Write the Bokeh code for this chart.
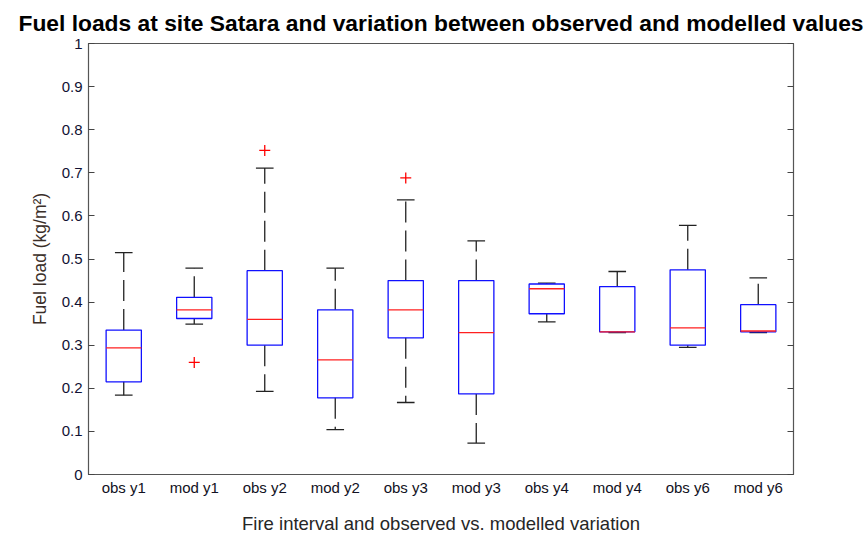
from bokeh.plotting import figure
from bokeh.models import (FixedTicker, LinearAxis, CustomJSTickFormatter, Range1d,
                          ColumnDataSource)
from bokeh.embed import file_html
from bokeh.resources import INLINE

# Box statistics per group (kg/m^2)
categories = ["obs y1", "mod y1", "obs y2", "mod y2", "obs y3",
              "mod y3", "obs y4", "mod y4", "obs y6", "mod y6"]
upper_whisker = [0.515, 0.479, 0.711, 0.479, 0.637, 0.542, 0.444, 0.471, 0.578, 0.456]
q3 = [0.335, 0.411, 0.473, 0.382, 0.450, 0.450, 0.442, 0.436, 0.475, 0.394]
median = [0.294, 0.382, 0.360, 0.266, 0.382, 0.329, 0.431, 0.331, 0.340, 0.333]
q1 = [0.215, 0.362, 0.300, 0.178, 0.317, 0.187, 0.373, 0.331, 0.300, 0.331]
lower_whisker = [0.184, 0.349, 0.193, 0.104, 0.167, 0.073, 0.354, 0.329, 0.295, 0.329]

outlier_groups = ["mod y1", "obs y2", "obs y3"]
outlier_values = [0.260, 0.752, 0.688]

y_ticks = [0.0, 0.1, 0.2, 0.3, 0.4, 0.5, 0.6, 0.7, 0.8, 0.9, 1.0]

FONT = "Liberation Sans"
BOX_W = 0.5
CAP_W = 0.25

xpos = [i + 1 for i in range(len(categories))]
src = ColumnDataSource(dict(
    x=xpos,
    left=[x - BOX_W / 2 for x in xpos],
    right=[x + BOX_W / 2 for x in xpos],
    cap_l=[x - CAP_W / 2 for x in xpos],
    cap_r=[x + CAP_W / 2 for x in xpos],
    upper=upper_whisker, q3=q3, median=median, q1=q1, lower=lower_whisker,
))
out_src = ColumnDataSource(dict(
    x=[categories.index(g) + 1 for g in outlier_groups],
    y=outlier_values,
))

p = figure(width=867, height=541, x_range=Range1d(0.5, 10.5), y_range=Range1d(0, 1),
           output_backend="svg", toolbar_location=None,
           min_border_left=88, min_border_right=74, min_border_top=42, min_border_bottom=67,
           title="Fuel loads at site Satara and variation between observed and modelled values")

p.title.text_font = FONT
p.title.text_font_size = "22.8px"
p.title.text_font_style = "bold"
p.title.text_color = "#000000"
p.title.align = "center"
p.title.offset = 12
p.title.standoff = 15

p.xgrid.visible = False
p.ygrid.visible = False
p.outline_line_color = "#555555"
p.outline_line_width = 1.2
p.background_fill_color = "white"
p.border_fill_color = "white"

# whiskers (dashed) from box edges to caps
p.segment(x0="x", y0="q3", x1="x", y1="upper", source=src,
          line_color="#222222", line_width=1.3, line_dash="21 8")
p.segment(x0="x", y0="q1", x1="x", y1="lower", source=src,
          line_color="#222222", line_width=1.3, line_dash="21 8")
# whisker caps
p.segment(x0="cap_l", y0="upper", x1="cap_r", y1="upper", source=src,
          line_color="#222222", line_width=1.3)
p.segment(x0="cap_l", y0="lower", x1="cap_r", y1="lower", source=src,
          line_color="#222222", line_width=1.3)
# boxes
p.quad(left="left", right="right", bottom="q1", top="q3", source=src,
       fill_color=None, line_color="#1010ff", line_width=1.3)
# medians
p.segment(x0="left", y0="median", x1="right", y1="median", source=src,
          line_color="#ff2020", line_width=1.3)
# outliers
p.scatter(x="x", y="y", source=out_src, marker="cross", size=11,
          line_color="#ff0000", line_width=1.3)

# x axis: group labels, no tick marks
xa = p.xaxis[0]
xa.ticker = FixedTicker(ticks=xpos)
xa.major_label_overrides = {x: c for x, c in zip(xpos, categories)}
xa.major_tick_in = 0
xa.major_tick_out = 0
xa.minor_tick_line_color = None
xa.axis_line_color = "#555555"
xa.major_label_text_font = FONT
xa.major_label_text_font_size = "15px"
xa.major_label_text_color = "#111122"
xa.major_label_standoff = 4
xa.axis_label = "Fire interval and observed vs. modelled variation"
xa.axis_label_text_font = FONT
xa.axis_label_text_font_size = "18.5px"
xa.axis_label_text_font_style = "normal"
xa.axis_label_text_color = "#262626"
xa.axis_label_standoff = 14

# y axis
ya = p.yaxis[0]
ya.ticker = FixedTicker(ticks=y_ticks)
ya.formatter = CustomJSTickFormatter(code="return String(Math.round(tick * 10) / 10);")
ya.major_tick_in = 6
ya.major_tick_out = 0
ya.minor_tick_line_color = None
ya.axis_line_color = "#555555"
ya.major_tick_line_color = "#444444"
ya.major_label_text_font = FONT
ya.major_label_text_font_size = "15px"
ya.major_label_text_color = "#111133"
ya.major_label_standoff = 6
ya.axis_label = "Fuel load (kg/m²)"
ya.axis_label_text_font = FONT
ya.axis_label_text_font_size = "17.5px"
ya.axis_label_text_font_style = "normal"
ya.axis_label_text_color = "#3a2e28"
ya.axis_label_standoff = 9

# mirrored tick marks on the right edge
ra = LinearAxis(ticker=FixedTicker(ticks=y_ticks),
                formatter=CustomJSTickFormatter(code="return '';"))
ra.major_tick_in = 6
ra.major_tick_out = 0
ra.minor_tick_line_color = None
ra.axis_line_color = "#555555"
ra.major_tick_line_color = "#444444"
p.add_layout(ra, "right")

open("out.html", "w").write(file_html(p, INLINE))
